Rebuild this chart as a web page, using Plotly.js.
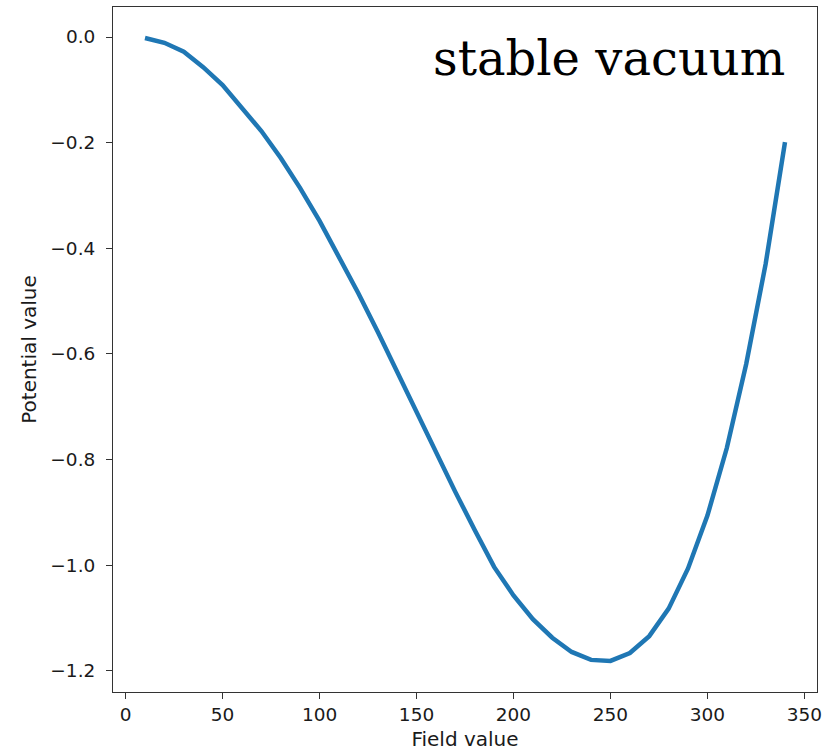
<!DOCTYPE html>
<html>
<head>
<meta charset="utf-8">
<script src="https://cdn.plot.ly/plotly-3.0.1.min.js"></script>
<style>html,body{margin:0;padding:0;background:#fff;}#chart{width:825px;height:751px;}</style>
</head>
<body>
<div id="chart"></div>
<script>
const fieldValues = [10, 20, 30, 40, 50, 60, 70, 80, 90, 100, 110, 120, 130, 140, 150, 160, 170,
  180, 190, 200, 210, 220, 230, 240, 250, 260, 270, 280, 290, 300, 310, 320, 330, 340];
const potentialValues = [-0.002, -0.011, -0.028, -0.057, -0.091, -0.133, -0.178, -0.229, -0.286,
  -0.348, -0.415, -0.485, -0.558, -0.634, -0.710, -0.787, -0.861, -0.933, -1.003, -1.057,
  -1.102, -1.137, -1.164, -1.179, -1.181, -1.166, -1.134, -1.082, -1.006, -0.906, -0.778,
  -0.619, -0.430, -0.199];
const xTicks = [0, 50, 100, 150, 200, 250, 300, 350];
const yTicks = [0.0, -0.2, -0.4, -0.6, -0.8, -1.0, -1.2];
const titleText = "stable vacuum";
const xLabel = "Field value";
const yLabel = "Potential value";

const trace = {
  x: fieldValues,
  y: potentialValues,
  type: "scatter",
  mode: "lines",
  line: {color: "#1f77b4", width: 4.5},
  hoverinfo: "none"
};

const axisCommon = {
  showgrid: false,
  zeroline: false,
  showline: true,
  mirror: true,
  linecolor: "#333",
  linewidth: 1,
  ticks: "outside",
  ticklen: 6,
  tickwidth: 1,
  tickcolor: "#333",
  tickfont: {family: "DejaVu Sans", size: 18.5, color: "#1a1a1a"}
};

const layout = {
  width: 825,
  height: 751,
  margin: {l: 113, r: 8, t: 7, b: 59},
  paper_bgcolor: "#fff",
  plot_bgcolor: "#fff",
  showlegend: false,
  xaxis: Object.assign({}, axisCommon, {
    range: [-6.5, 356.5],
    tickvals: xTicks,
    ticktext: xTicks.map(String),
    title: {text: xLabel, font: {family: "DejaVu Sans", size: 20, color: "#1a1a1a"}, standoff: 8}
  }),
  yaxis: Object.assign({}, axisCommon, {
    range: [-1.2398, 0.0568],
    tickvals: yTicks,
    tickformat: ".1f",
    ticklabelstandoff: 7,
    title: {text: yLabel, font: {family: "DejaVu Sans", size: 20, color: "#1a1a1a"}, standoff: 8}
  }),
  annotations: [{
    text: titleText,
    xref: "paper", yref: "paper",
    x: 0.958, y: 0.970,
    xanchor: "right", yanchor: "top",
    showarrow: false,
    font: {family: "DejaVu Serif", size: 48, color: "#000"}
  }]
};

Plotly.newPlot("chart", [trace], layout, {displayModeBar: false, staticPlot: true});
</script>
</body>
</html>
